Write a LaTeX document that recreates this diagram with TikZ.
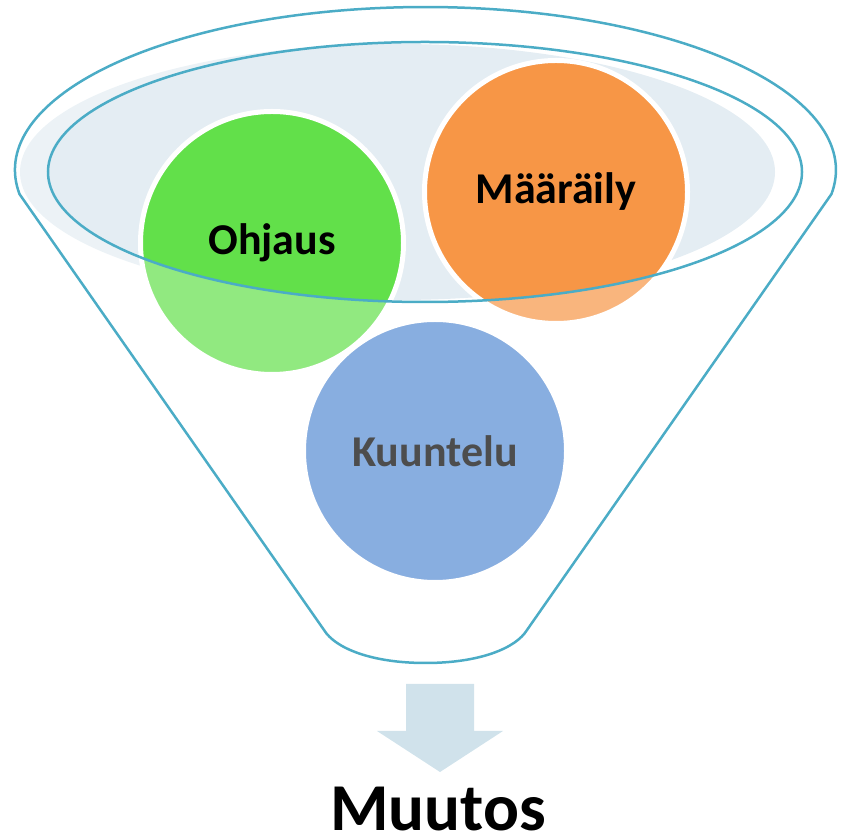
\documentclass[tikz,border=0pt]{standalone}
\usepackage{fontspec}
\setmainfont{Carlito}
\usepackage{tikz}

\definecolor{rimblue}{RGB}{75,172,198}
\definecolor{mouthshade}{RGB}{228,237,243}
\definecolor{ohjausgreen}{RGB}{98,224,74}
\definecolor{maarailyorange}{RGB}{247,150,70}
\definecolor{kuuntelublue}{RGB}{85,139,211}
\definecolor{spoutblue}{RGB}{208,226,235}

\begin{document}
\begin{tikzpicture}[x=1pt,y=1pt,
    bubble/.style={circle,draw=white,line width=5pt,minimum size=263pt,inner sep=0pt,
        font=\fontsize{44}{52}\selectfont\bfseries},
    rim/.style={draw=rimblue,line width=2.5pt}]
    % Canvas
    \useasboundingbox (0,0) rectangle (843,838);

    % Shading inside the funnel mouth
    \fill[mouthshade] (397.5,666) ellipse [x radius=377.5, y radius=128];

    % The three circles
    \node[bubble,fill=ohjausgreen] (ohjaus) at (272,595) {Ohjaus};
    \node[bubble,fill=maarailyorange] (maaraily) at (556,646) {Määräily};
    \node[bubble,fill=kuuntelublue] (kuuntelu) at (435,387) {Kuuntelu};

    % Funnel body (see-through) with its outline and mouth rim
    \path[rim,fill=white,fill opacity=0.3,even odd rule]
        (19.5,643.9) arc [start angle=188.5, end angle=-8.5, x radius=410.5, y radius=163]
        -- (527,208) .. controls (516,190) and (480,175) .. (425.5,175)
        .. controls (371,175) and (335,190) .. (324,208) -- cycle
        (425,666) ellipse [x radius=377, y radius=130];

    % Down arrow out of the funnel
    \fill[spoutblue] (406,154) -- (474,154) -- (474,107) -- (503,107)
        -- (440,66) -- (377,107) -- (406,107) -- cycle;

    % Result
    \node[anchor=base,font=\fontsize{67}{80}\selectfont\bfseries] (muutos) at (438,8) {Muutos};
\end{tikzpicture}
\end{document}
